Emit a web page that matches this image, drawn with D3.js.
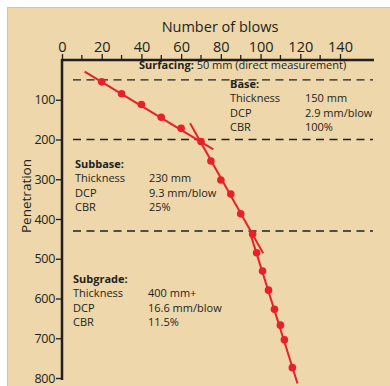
<!DOCTYPE html>
<html><head><meta charset="utf-8">
<script src="https://cdn.jsdelivr.net/npm/d3@7"></script>
<style>body{margin:0;background:#fff}svg{display:block;font-family:"Open Sans","Noto Sans",sans-serif}</style>
</head><body>
<svg id="c" width="390" height="386"></svg>
<script>
const blows = [20,30,40,50,60,70,75,80,85,90,96,98,101,104,107,110,112,116];
const penetration = [55,85,112,144,172,205,254,302,337,387,438,485,531,579,627,667,704,774];
const xTicks = [0,20,40,60,80,100,120,140];
const xMinor = [10,30,50,70,90,110,130];
const yTicks = [100,200,300,400,500,600,700,800];
const layerDepths = [50,200,430];
const fitBase = [[11.4,29],[76.2,225]];
const fitSubbase = [[64.5,159],[101.3,486]];
const fitSubgrade = [[94.6,433],[118.6,814]];
const layerTitles = ["Base:","Subbase:","Subgrade:"];
const rowLabels = ["Thickness","DCP","CBR"];
const layerValues = [
  ["150 mm","2.9 mm/blow","100%"],
  ["230 mm","9.3 mm/blow","25%"],
  ["400 mm+","16.6 mm/blow","11.5%"]
];
// text block layout (pixels): label x, value x, title baseline
const blockPos = [[230,305,88],[75,149,168],[73,148,283]];

const svg = d3.select("#c");
svg.append("rect").attr("x",7.5).attr("y",7.5).attr("width",390).attr("height",390)
  .attr("fill","#edd7ab").attr("stroke","#c9c5bd").attr("stroke-width",1);

const x = d3.scaleLinear().domain([0,140]).range([62,340]);
const y = d3.scaleLinear().domain([0,800]).range([60,378]);
const ink = "#231f20", red = "#e8202a";

// x axis
const gx = svg.append("g").attr("transform","translate(0,60)");
gx.append("line").attr("x1",x(0)-1).attr("x2",374).attr("stroke",ink).attr("stroke-width",2.5);
gx.selectAll(".mi").data(xMinor).join("line").attr("x1",d=>x(d)).attr("x2",d=>x(d)).attr("y1",0).attr("y2",-5).attr("stroke",ink).attr("stroke-width",1.3);
gx.append("g").call(d3.axisTop(x).tickValues(xTicks).tickSize(6).tickPadding(2))
  .call(a=>{a.select(".domain").remove();
    a.selectAll(".tick line").attr("stroke",ink).attr("stroke-width",1.3);
    a.selectAll(".tick text").attr("fill",ink).style("font-size","14.5px").style("font-family","'Open Sans',sans-serif");});
svg.append("text").attr("x",220).attr("y",32).attr("text-anchor","middle").attr("fill",ink)
  .style("font-size","14.5px").text("Number of blows");

// y axis
const gy = svg.append("g").attr("transform","translate(62,0)");
gy.append("line").attr("y1",59).attr("y2",380).attr("stroke",ink).attr("stroke-width",2.5);
gy.append("g").call(d3.axisLeft(y).tickValues(yTicks).tickSize(6).tickPadding(1))
  .call(a=>{a.select(".domain").remove();
    a.selectAll(".tick line").attr("stroke",ink).attr("stroke-width",1.3);
    a.selectAll(".tick text").attr("fill",ink).style("font-size","12.5px").attr("letter-spacing","-0.3px").style("font-family","'Open Sans',sans-serif");});
svg.append("text").attr("transform","translate(31,196) rotate(-90)").attr("text-anchor","middle")
  .attr("fill",ink).style("font-size","13.5px").text("Penetration");

// layer boundaries
svg.selectAll(".dash").data(layerDepths).join("line")
  .attr("x1",73).attr("x2",373).attr("y1",d=>y(d)).attr("y2",d=>y(d))
  .attr("stroke",ink).attr("stroke-width",1.4).attr("stroke-dasharray","8,5.5");

// surfacing label
const st = svg.append("text").attr("x",139).attr("y",69).attr("fill",ink).style("font-size","11px");
st.append("tspan").attr("font-weight","bold").text("Surfacing:");
st.append("tspan").text(" 50 mm (direct measurement)");

// layer info
layerTitles.forEach((t,k)=>{
  const [lx,vx,ty] = blockPos[k];
  const g = svg.append("g").attr("fill",ink).style("font-size","11px");
  g.append("text").attr("x",lx).attr("y",ty).attr("font-weight","bold").text(t);
  rowLabels.forEach((r,i)=>{
    g.append("text").attr("x",lx).attr("y",ty+14.4*(i+1)).text(r);
    g.append("text").attr("x",vx).attr("y",ty+14.4*(i+1)).text(layerValues[k][i]);
  });
});

// fit lines
const line = d3.line().x(d=>x(d[0])).y(d=>y(d[1]));
[fitBase,fitSubbase,fitSubgrade].forEach(f=>{
  svg.append("path").attr("d",line(f)).attr("stroke",red).attr("stroke-width",2).attr("fill","none");
});
// points
svg.selectAll(".pt").data(blows).join("circle")
  .attr("cx",d=>x(d)).attr("cy",(d,i)=>y(penetration[i])).attr("r",3.8).attr("fill",red);
</script>
</body></html>
